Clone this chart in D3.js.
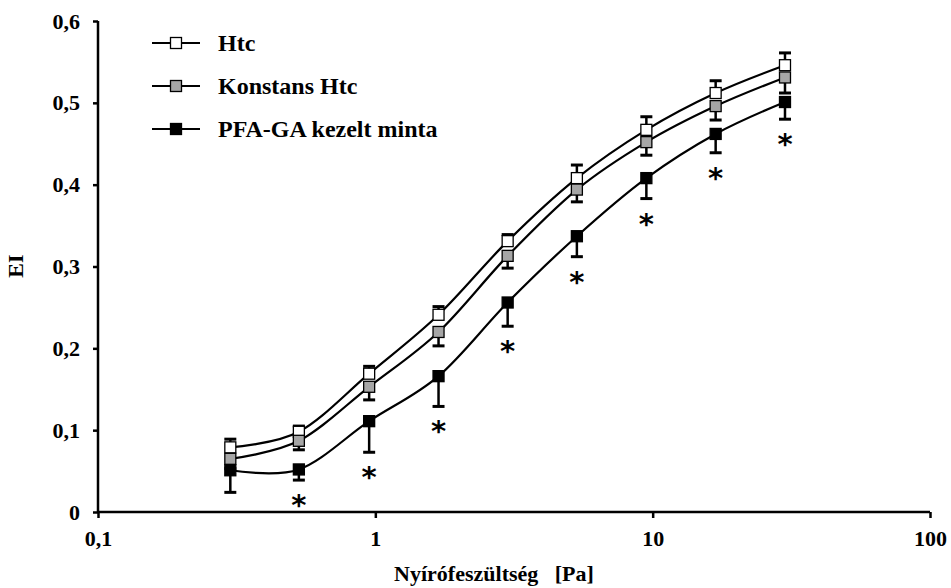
<!DOCTYPE html>
<html>
<head>
<meta charset="utf-8">
<script src="https://cdn.jsdelivr.net/npm/d3@7/dist/d3.min.js"></script>
<style>
  html, body { margin: 0; padding: 0; background: #fff; }
  svg { display: block; }
</style>
</head>
<body>
<svg id="chart" width="951" height="588"></svg>
<script>
// Shear stress steps (Pa)
const shearStress = [0.3, 0.53, 0.95, 1.69, 3, 5.33, 9.49, 16.87, 30];

// Elongation index means and SDs per group
const htcEI       = [0.079, 0.098, 0.169, 0.241, 0.331, 0.408, 0.467, 0.512, 0.546];
const htcSD       = [0.010, 0.007, 0.009, 0.010, 0.008, 0.016, 0.016, 0.015, 0.015];
const konstansEI  = [0.065, 0.087, 0.153, 0.220, 0.313, 0.394, 0.452, 0.496, 0.531];
const konstansSD  = [0.012, 0.011, 0.016, 0.017, 0.015, 0.015, 0.016, 0.017, 0.019];
const pfaEI       = [0.051, 0.052, 0.111, 0.166, 0.256, 0.337, 0.408, 0.462, 0.501];
const pfaSD       = [0.027, 0.013, 0.038, 0.037, 0.029, 0.025, 0.025, 0.023, 0.021];

// Significant difference of the treated sample (p < 0.05)
const significant = [false, true, true, true, true, true, true, true, true];

const seriesNames = ["Htc", "Konstans Htc", "PFA-GA kezelt minta"];
const yTicks = [0, 0.1, 0.2, 0.3, 0.4, 0.5, 0.6];
const xTicks = [0.1, 1, 10, 100];
const xTitle = "Nyírófeszültség   [Pa]";
const yTitle = "EI";

const series = [
  { name: seriesNames[0], mean: htcEI, sd: htcSD, fill: "#ffffff", dir: -1 },
  { name: seriesNames[1], mean: konstansEI, sd: konstansSD, fill: "#a6a6a6", dir: 1 },
  { name: seriesNames[2], mean: pfaEI, sd: pfaSD, fill: "#000000", dir: 1 }
];

const serif = "'Liberation Serif', 'Times New Roman', serif";
const svg = d3.select("#chart");
const fmt = v => d3.format(".1f")(v).replace(".", ",");

const x = d3.scaleLog().domain([0.1, 100]).range([98, 930]);
const y = d3.scaleLinear().domain([0, 0.6]).range([512, 21]);

// Axes
const yAxis = svg.append("g").attr("transform", `translate(${x(0.1)},0)`)
  .call(d3.axisLeft(y).tickValues(yTicks).tickSize(5).tickPadding(13).tickFormat(v => v === 0 ? "0" : fmt(v)));
const xAxis = svg.append("g").attr("transform", `translate(0,${y(0)})`)
  .call(d3.axisBottom(x).tickValues(xTicks).tickSize(6).tickPadding(12)
    .tickFormat(v => v < 1 ? fmt(v) : String(v)));

[yAxis, xAxis].forEach(g => {
  g.select(".domain").attr("stroke", "#000").attr("stroke-width", 2.5);
  g.selectAll(".tick line").attr("stroke", "#000").attr("stroke-width", 2.5);
  g.selectAll(".tick text").style("font-family", serif).style("font-weight", "bold")
    .style("font-size", "22px").attr("fill", "#000");
});
// draw the axis line ends flat (no outer tick hooks)
yAxis.select(".domain").attr("d", `M0,${y(0.6)}V${y(0)}`);
xAxis.select(".domain").attr("d", `M${x(0.1)},0H${x(100)}`);

// Axis titles
svg.append("text").attr("x", 494).attr("y", 581).attr("text-anchor", "middle")
  .style("font-family", serif).style("font-weight", "bold").style("font-size", "22px")
  .style("white-space", "pre").text(xTitle);
svg.append("text").attr("transform", `translate(23,266) rotate(-90)`).attr("text-anchor", "middle")
  .style("font-family", serif).style("font-weight", "bold").style("font-size", "22px")
  .text(yTitle);

// Smoothed connecting lines
const line = d3.line()
  .x((d, i) => x(shearStress[i]))
  .y(d => y(d))
  .curve(d3.curveCardinal.tension(0));

const plot = svg.append("g");
series.forEach(s => {
  plot.append("path").attr("d", line(s.mean)).attr("fill", "none")
    .attr("stroke", "#000").attr("stroke-width", 2.2);
});

// Error bars (one-sided)
const capW = 12;
series.forEach(s => {
  const g = plot.append("g");
  s.mean.forEach((m, i) => {
    const cx = x(shearStress[i]);
    const end = m - s.dir * s.sd[i];
    g.append("line").attr("x1", cx).attr("x2", cx).attr("y1", y(m)).attr("y2", y(end))
      .attr("stroke", "#000").attr("stroke-width", 2.5);
    g.append("line").attr("x1", cx - capW / 2).attr("x2", cx + capW / 2)
      .attr("y1", y(end)).attr("y2", y(end)).attr("stroke", "#000").attr("stroke-width", 3);
  });
});

// Markers
const mSize = 11;
series.forEach(s => {
  plot.append("g").selectAll("rect").data(s.mean).join("rect")
    .attr("x", (d, i) => x(shearStress[i]) - mSize / 2)
    .attr("y", d => y(d) - mSize / 2)
    .attr("width", mSize).attr("height", mSize)
    .attr("fill", s.fill).attr("stroke", "#000").attr("stroke-width", 1.3);
});

// Significance marks below the treated sample's error bars
const pfa = series[2];
const sigIdx = shearStress.map((d, i) => i).filter(i => significant[i]);
plot.append("g").selectAll("text").data(sigIdx).join("text")
  .attr("x", i => x(shearStress[i]))
  .attr("y", i => y(pfa.mean[i] - pfa.sd[i]) + 35)
  .attr("text-anchor", "middle")
  .style("font-family", "'DejaVu Sans', sans-serif").style("font-weight", "bold")
  .style("font-size", "29px")
  .text("*");

// Legend
const legend = svg.append("g");
series.forEach((s, i) => {
  const ly = 43 + i * 43;
  legend.append("line").attr("x1", 152).attr("x2", 200).attr("y1", ly).attr("y2", ly)
    .attr("stroke", "#000").attr("stroke-width", 2.2);
  legend.append("rect").attr("x", 176 - mSize / 2).attr("y", ly - mSize / 2)
    .attr("width", mSize).attr("height", mSize)
    .attr("fill", s.fill).attr("stroke", "#000").attr("stroke-width", 1.3);
  legend.append("text").attr("x", 218).attr("y", ly).attr("dy", "0.35em")
    .style("font-family", serif).style("font-weight", "bold").style("font-size", "24px")
    .text(s.name);
});
</script>
</body>
</html>
